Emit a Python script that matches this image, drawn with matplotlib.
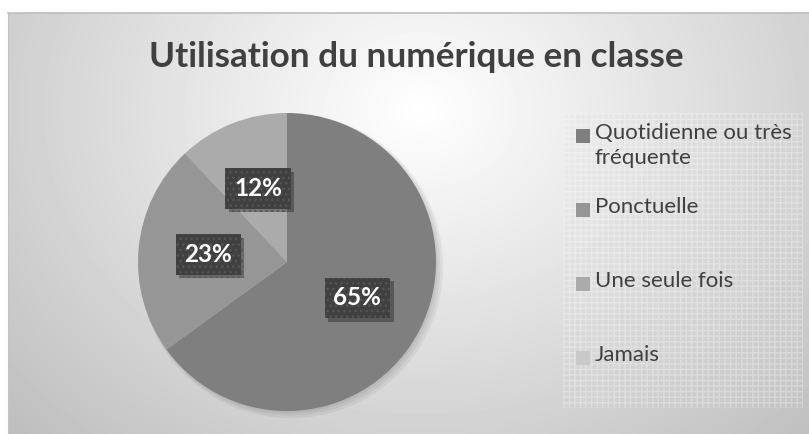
import numpy as np
import matplotlib
matplotlib.use("Agg")
import matplotlib.pyplot as plt
import matplotlib.patheffects as pe
from matplotlib.patches import Rectangle

TITLE = "Utilisation du numérique en classe"
LABELS = ["Quotidienne ou très\nfréquente", "Ponctuelle", "Une seule fois", "Jamais"]
VALUES = [65, 23, 12, 0]
COLORS = ["#7f7f7f", "#969696", "#ababab", "#c9c9c9"]

W, H = 809, 434
fig = plt.figure(figsize=(W / 100, H / 100), dpi=100)
fig.patch.set_facecolor("white")

# background axes in pixel coordinates
bg = fig.add_axes([0, 0, 1, 1])
bg.set_xlim(0, W)
bg.set_ylim(H, 0)
bg.axis("off")

# radial gradient of the chart area
x0, y0 = 8, 13
yy, xx = np.mgrid[y0:H, x0:W]
d = np.sqrt(((xx - 420) / 470.0) ** 2 + ((yy - 110) / 380.0) ** 2)
shade = np.clip(1.0 - 0.21 * d, 0.74, 1.0)
bg.imshow(shade, cmap="gray", vmin=0, vmax=1, extent=(x0, W, H, y0),
          aspect="auto", interpolation="bilinear", zorder=0)
bg.plot([x0, W], [y0, y0], color="#bdbdbd", lw=1.2, zorder=1)
bg.plot([x0, x0], [y0, H], color="#c4c4c4", lw=0.8, zorder=1)

# patterned legend area
bg.add_patch(Rectangle((563, 113), 240, 295, facecolor=(0.8, 0.8, 0.8, 0.1),
                       edgecolor=(1, 1, 1, 0.3), hatch="+++", lw=0, zorder=1))

bg.text(416, 57, TITLE, ha="center", va="center", fontsize=25.3,
        fontweight="bold", family="Lato", color="#404040", zorder=3)

# legend entries
ys = [136, 210, 284, 358]
for lab, col, y in zip(LABELS, COLORS, ys):
    bg.add_patch(Rectangle((576, y - 7), 14, 14, facecolor=col, lw=0, zorder=3))
    bg.text(595, y - 13, lab, ha="left", va="top", fontsize=16, family="Lato",
            color="#404040", linespacing=1.3, zorder=3)

# pie
cx, cy, r = 287, 262, 149
ax = fig.add_axes([(cx - r) / W, (H - cy - r) / H, 2 * r / W, 2 * r / H])

# soft shadow under the pie
for k in range(3):
    sh = plt.Circle((0.012 + 0.008 * k, -0.012 - 0.008 * k), 1.0 + 0.01 * k,
                    color="black", alpha=0.05, lw=0, zorder=0, clip_on=False)
    ax.add_patch(sh)

def pct(v):
    return f"{v:.0f}%" if v > 0 else ""

wedges, texts, autotexts = ax.pie(
    VALUES, colors=COLORS, startangle=90, counterclock=False, radius=1.0,
    autopct=pct, pctdistance=0.53, wedgeprops=dict(lw=0),
    textprops=dict(color="white", fontsize=17.5, fontweight="bold", family="Lato"))
ax.set_xlim(-1, 1)
ax.set_ylim(-1, 1)
ax.axis("off")
for w in wedges:
    w.set_zorder(1)
    w.set_clip_on(False)
for t in autotexts:
    t.set_zorder(5)
    t.set_bbox(dict(boxstyle="square,pad=0.36", facecolor="#404040",
                    edgecolor="#555555", lw=0, hatch="..."))
    t.get_bbox_patch().set_path_effects(
        [pe.SimplePatchShadow(offset=(2.5, -2.5), alpha=0.35), pe.Normal()])

fig.savefig("out.png", dpi=100)
